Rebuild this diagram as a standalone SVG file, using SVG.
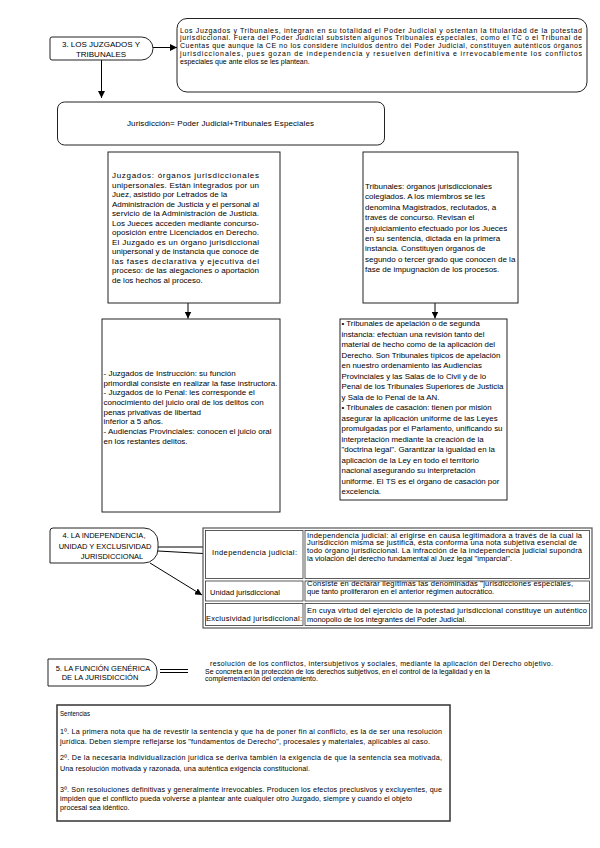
<svg xmlns="http://www.w3.org/2000/svg" width="600" height="848" viewBox="0 0 600 848">
<style>
.bg{fill:#fff}
.box{fill:#fff;stroke:#222;stroke-width:1}
.cell{fill:none;stroke:#333;stroke-width:0.8}
.t{font-family:"Liberation Sans",Arial,sans-serif;fill:#000}
.f8{font-size:8px}
.f79{font-size:7.9px}
.f75{font-size:7.5px}
.f72{font-size:7.2px}
.f7{font-size:7px}
.c{text-anchor:middle}
.conn{stroke:#000;stroke-width:1;fill:none}
</style>
<defs>
<marker id="ah" viewBox="0 0 10 10" refX="10" refY="5" markerWidth="7" markerHeight="7" markerUnits="userSpaceOnUse" orient="auto">
<path d="M0,0 L10,5 L0,10 z" fill="#000"/>
</marker>
</defs>
<rect class="bg" x="0" y="0" width="600" height="848"/>

<g id="connectors">
<line class="conn" x1="153" y1="47.5" x2="177" y2="47.5" marker-end="url(#ah)"/>
<line class="conn" x1="101.5" y1="60" x2="101.5" y2="98" marker-end="url(#ah)"/>
<line class="conn" x1="188" y1="303" x2="188" y2="318.5" marker-end="url(#ah)"/>
<line class="conn" x1="435" y1="303" x2="435" y2="318.5" marker-end="url(#ah)"/>
<line class="conn" x1="158" y1="547" x2="203" y2="547"/>
<line class="conn" x1="158" y1="551" x2="203" y2="553.5"/>
<line class="conn" x1="150" y1="563" x2="202" y2="595" marker-end="url(#ah)"/>
<line class="conn" x1="160" y1="669.5" x2="188" y2="669.5"/>
<line class="conn" x1="160" y1="672.5" x2="188" y2="672.5"/>
</g>

<g id="n3">
<path class="box" d="M52,37 H141.5 A11.5,11.5 0 0 1 141.5,60 H52 Q50,60 50,58 V39 Q50,37 52,37 Z"/>
<text class="t f8 c" x="101" y="47">3. LOS JUZGADOS Y</text>
<text class="t f8 c" x="101" y="57">TRIBUNALES</text>
</g>

<g id="topbox">
<rect class="box" x="177" y="18.5" width="410" height="73.5" rx="10"/>
<text class="t f7" x="180" y="32.7" textLength="402" lengthAdjust="spacing">Los Juzgados y Tribunales, integran en su totalidad el Poder Judicial y ostentan la titularidad de la potestad</text>
<text class="t f7" x="180" y="40.4" textLength="402" lengthAdjust="spacing">jurisdiccional. Fuera del Poder Judicial subsisten algunos Tribunales especiales, como el TC o el Tribunal de</text>
<text class="t f7" x="180" y="48.2" textLength="402" lengthAdjust="spacing">Cuentas que aunque la CE no los considere incluidos dentro del Poder Judicial, constituyen auténticos órganos</text>
<text class="t f7" x="180" y="55.9" textLength="402" lengthAdjust="spacing">jurisdiccionales, pues gozan de independencia y resuelven definitiva e irrevocablemente los conflictos</text>
<text class="t f7" x="180" y="63.6">especiales que ante ellos se les plantean.</text>
</g>

<g id="jurisdiccion">
<rect class="box" x="57.5" y="102" width="327" height="43" rx="7"/>
<text class="t f8" x="127" y="126" textLength="187" lengthAdjust="spacing">Jurisdicción= Poder Judicial+Tribunales Especiales</text>
</g>

<g id="juzgados">
<rect class="box" x="108" y="152" width="172" height="151"/>
<text class="t f8" x="112" y="178" textLength="147" lengthAdjust="spacing">Juzgados: órganos jurisdiccionales</text>
<text class="t f8" x="112" y="187.5" textLength="147" lengthAdjust="spacing">unipersonales. Están integrados por un</text>
<text class="t f8" x="112" y="197">Juez, asistido por Letrados de la</text>
<text class="t f8" x="112" y="206.5" textLength="147" lengthAdjust="spacing">Administración de Justicia y el personal al</text>
<text class="t f8" x="112" y="216" textLength="147" lengthAdjust="spacing">servicio de la Administración de Justicia.</text>
<text class="t f8" x="112" y="225.5" textLength="147" lengthAdjust="spacing">Los Jueces acceden mediante concurso-</text>
<text class="t f8" x="112" y="235" textLength="147" lengthAdjust="spacing">oposición entre Licenciados en Derecho.</text>
<text class="t f8" x="112" y="244.5" textLength="147" lengthAdjust="spacing">El Juzgado es un órgano jurisdiccional</text>
<text class="t f8" x="112" y="254" textLength="147" lengthAdjust="spacing">unipersonal y de instancia que conoce de</text>
<text class="t f8" x="112" y="263.5" textLength="147" lengthAdjust="spacing">las fases declarativa y ejecutiva del</text>
<text class="t f8" x="112" y="273" textLength="147" lengthAdjust="spacing">proceso: de las alegaciones o aportación</text>
<text class="t f8" x="112" y="282.5">de los hechos al proceso.</text>
</g>

<g id="tribunales">
<rect class="box" x="363" y="152" width="155" height="151"/>
<text class="t f8" x="365" y="189">Tribunales: órganos jurisdiccionales</text>
<text class="t f8" x="365" y="199.4">colegiados. A los miembros se les</text>
<text class="t f8" x="365" y="209.8">denomina Magistrados, reclutados, a</text>
<text class="t f8" x="365" y="220.2">través de concurso. Revisan el</text>
<text class="t f8" x="365" y="230.6">enjuiciamiento efectuado por los Jueces</text>
<text class="t f8" x="365" y="241">en su sentencia, dictada en la primera</text>
<text class="t f8" x="365" y="251.4">instancia. Constituyen órganos de</text>
<text class="t f8" x="365" y="261.8">segundo o tercer grado que conocen de la</text>
<text class="t f8" x="365" y="272.2">fase de impugnación de los procesos.</text>
</g>

<g id="organos-unipersonales">
<rect class="box" x="102" y="319" width="178" height="193"/>
<text class="t f8" x="103.5" y="375.8">- Juzgados de Instrucción: su función</text>
<text class="t f8" x="103.5" y="385.5">primordial consiste en realizar la fase instructora.</text>
<text class="t f8" x="103.5" y="395.2">- Juzgados de lo Penal: les corresponde el</text>
<text class="t f8" x="103.5" y="404.9">conocimiento del juicio oral de los delitos con</text>
<text class="t f8" x="103.5" y="414.6">penas privativas de libertad</text>
<text class="t f8" x="103.5" y="424.3">inferior a 5 años.</text>
<text class="t f8" x="103.5" y="434">- Audiencias Provinciales: conocen el juicio oral</text>
<text class="t f8" x="103.5" y="443.7">en los restantes delitos.</text>
</g>

<g id="organos-colegiados">
<rect class="box" x="340" y="319" width="167" height="181"/>
<text class="t f79" x="341.5" y="326">• Tribunales de apelación o de segunda</text>
<text class="t f79" x="341.5" y="336.5">instancia: efectúan una revisión tanto del</text>
<text class="t f79" x="341.5" y="347">material de hecho como de la aplicación del</text>
<text class="t f79" x="341.5" y="357.5">Derecho. Son Tribunales típicos de apelación</text>
<text class="t f79" x="341.5" y="368">en nuestro ordenamiento las Audiencias</text>
<text class="t f79" x="341.5" y="378.5">Provinciales y las Salas de lo Civil y de lo</text>
<text class="t f79" x="341.5" y="389">Penal de los Tribunales Superiores de Justicia</text>
<text class="t f79" x="341.5" y="399.5">y Sala de lo Penal de la AN.</text>
<text class="t f79" x="341.5" y="410">• Tribunales de casación: tienen por misión</text>
<text class="t f79" x="341.5" y="420.5">asegurar la aplicación uniforme de las Leyes</text>
<text class="t f79" x="341.5" y="431">promulgadas por el Parlamento, unificando su</text>
<text class="t f79" x="341.5" y="441.5">interpretación mediante la creación de la</text>
<text class="t f79" x="341.5" y="452">"doctrina legal". Garantizar la igualdad en la</text>
<text class="t f79" x="341.5" y="462.5">aplicación de la Ley en todo el territorio</text>
<text class="t f79" x="341.5" y="473">nacional asegurando su interpretación</text>
<text class="t f79" x="341.5" y="483.5">uniforme. El TS es el órgano de casación por</text>
<text class="t f79" x="341.5" y="494">excelencia.</text>
</g>

<g id="n4">
<path class="box" d="M53,528 H144 A14,14 0 0 1 158,542 V549 A14,14 0 0 1 144,563 H50 V531 Q50,528 53,528 Z"/>
<text class="t f75 c" x="104" y="537.5">4. LA INDEPENDENCIA,</text>
<text class="t f75 c" x="105" y="548.5">UNIDAD Y EXCLUSIVIDAD</text>
<text class="t f75 c" x="112" y="559">JURISDICCIONAL</text>
</g>

<g id="tabla">
<rect x="203" y="528" width="389" height="100" fill="#fff" stroke="#555" stroke-width="1.2"/>
<rect class="cell" x="205.5" y="530.5" width="97.5" height="48"/>
<rect class="cell" x="305" y="530.5" width="284.5" height="48"/>
<rect class="cell" x="205.5" y="581" width="97.5" height="20"/>
<rect class="cell" x="305" y="581" width="284.5" height="20"/>
<rect class="cell" x="205.5" y="603.5" width="97.5" height="22"/>
<rect class="cell" x="305" y="603.5" width="284.5" height="22"/>
<text class="t f75" x="212" y="554.5" textLength="85" lengthAdjust="spacing">Independencia judicial:</text>
<text class="t f75" x="210" y="594.5" textLength="70" lengthAdjust="spacing">Unidad jurisdiccional</text>
<text class="t f75" x="206" y="621" textLength="96" lengthAdjust="spacing">Exclusividad jurisdiccional:</text>
<text class="t f75" x="307" y="537.7" textLength="275" lengthAdjust="spacing">Independencia judicial: al erigirse en causa legitimadora a través de la cual la</text>
<text class="t f75" x="307" y="545.4" textLength="270" lengthAdjust="spacing">Jurisdicción misma se justifica, ésta conforma una nota subjetiva esencial de</text>
<text class="t f75" x="307" y="553.1" textLength="275" lengthAdjust="spacing">todo órgano jurisdiccional. La infracción de la independencia judicial supondrá</text>
<text class="t f75" x="307" y="560.8">la violación del derecho fundamental al Juez legal "imparcial".</text>
<text class="t f75" x="307" y="586" textLength="266" lengthAdjust="spacing">Consiste en declarar ilegítimas las denominadas "jurisdicciones especiales,</text>
<text class="t f75" x="307" y="594.4">que tanto proliferaron en el anterior régimen autocrático.</text>
<text class="t f75" x="307" y="613.4" textLength="280" lengthAdjust="spacing">En cuya virtud del ejercicio de la potestad jurisdiccional constituye un auténtico</text>
<text class="t f75" x="307" y="621.7">monopolio de los integrantes del Poder Judicial.</text>
</g>

<g id="n5">
<path class="box" d="M48,659 H145 A12,12 0 0 1 157,671 V674 A12,12 0 0 1 145,686 H48 Z"/>
<text class="t f75 c" x="103" y="671">5. LA FUNCIÓN GENÉRICA</text>
<text class="t f75 c" x="100" y="679.5">DE LA JURISDICCIÓN</text>
</g>

<g id="funcion">
<text class="t f7" x="210" y="666" textLength="343" lengthAdjust="spacing">resolución de los conflictos, intersubjetivos y sociales, mediante la aplicación del Derecho objetivo.</text>
<text class="t f7" x="205" y="673.6">Se concreta en la protección de los derechos subjetivos, en el control de la legalidad y en la</text>
<text class="t f7" x="205" y="681.2">complementación del ordenamiento.</text>
</g>

<g id="sentencias">
<rect x="57" y="705" width="393" height="116" fill="#fff" stroke="#333" stroke-width="1.5"/>
<text class="t f72" x="60" y="716" textLength="30" lengthAdjust="spacingAndGlyphs">Sentencias</text>
<text class="t f72" x="60" y="734.2" textLength="382" lengthAdjust="spacing">1º. La primera nota que ha de revestir la sentencia y que ha de poner fin al conflicto, es la de ser una resolución</text>
<text class="t f72" x="60" y="744.2" textLength="370" lengthAdjust="spacing">jurídica. Deben siempre reflejarse los "fundamentos de Derecho", procesales y materiales, aplicables al caso.</text>
<text class="t f72" x="60" y="759.5" textLength="382" lengthAdjust="spacing">2º. De la necesaria individualización jurídica se deriva también la exigencia de que la sentencia sea motivada,</text>
<text class="t f72" x="60" y="771" textLength="250" lengthAdjust="spacing">Una resolución motivada y razonada, una auténtica exigencia constitucional.</text>
<text class="t f72" x="60" y="791.5" textLength="382" lengthAdjust="spacing">3º. Son resoluciones definitivas y generalmente irrevocables. Producen los efectos preclusivos y excluyentes, que</text>
<text class="t f72" x="60" y="800.5" textLength="352" lengthAdjust="spacing">impiden que el conflicto pueda volverse a plantear ante cualquier otro Juzgado, siempre y cuando el objeto</text>
<text class="t f72" x="60" y="809.5">procesal sea idéntico.</text>
</g>
</svg>
